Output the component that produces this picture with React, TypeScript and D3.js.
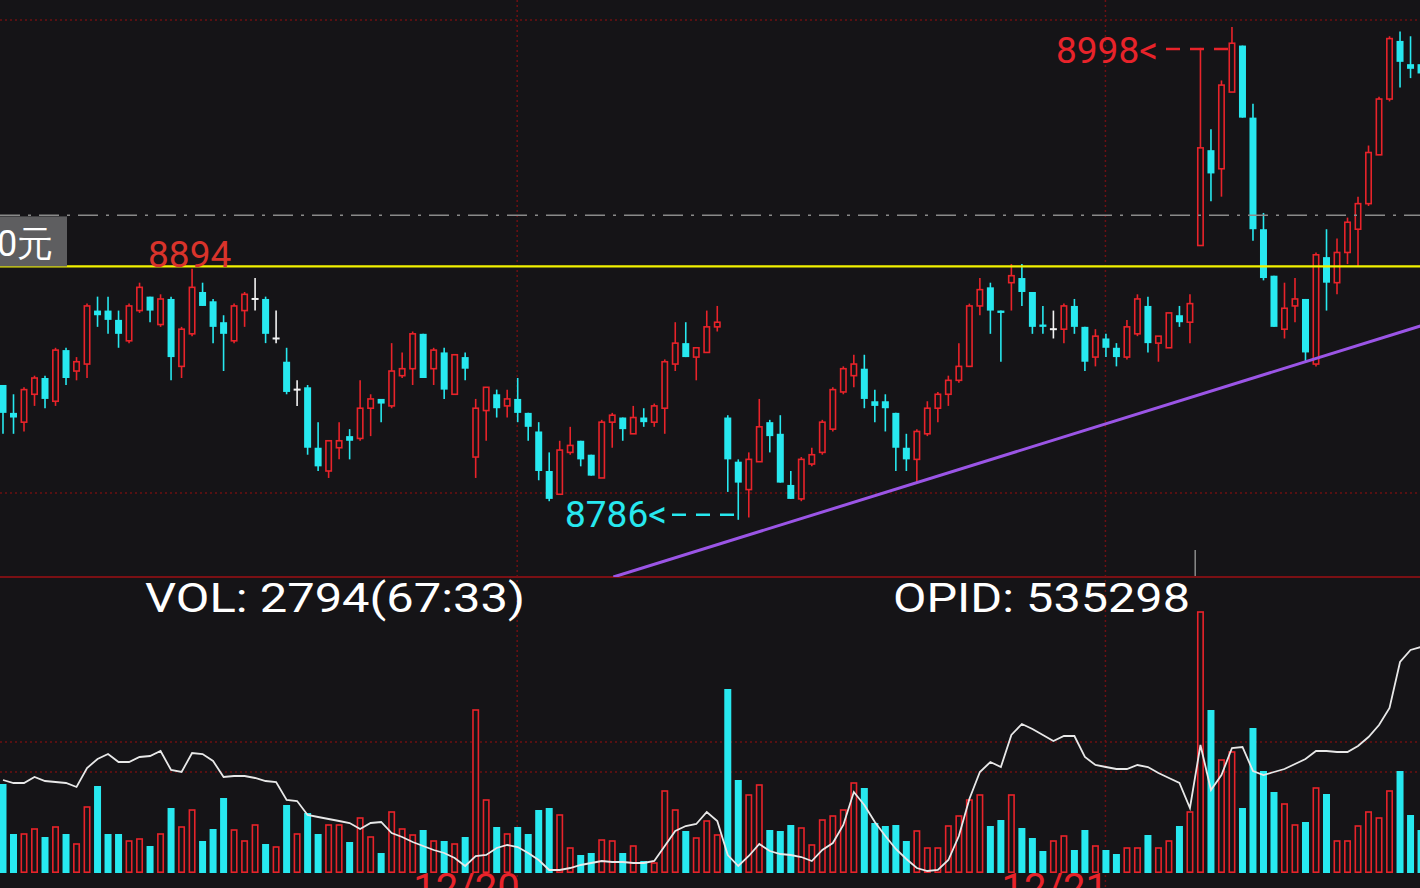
import React from "react";
import * as d3 from "d3";

const W = 1420;
const H = 888;

// ---- price data (per bar) ----
const opens = [
  8844, 8832, 8828, 8840, 8847, 8837, 8859, 8850, 8853, 8876, 8876, 8872, 8863, 8876, 8882, 8870, 8881, 8852, 8866, 8884,
  8880, 8871, 8863, 8876, 8881, 8881, 8864, 8854, 8842, 8843, 8817, 8807, 8817, 8822, 8821, 8834, 8838, 8835, 8848, 8851,
  8866, 8851, 8858, 8840, 8856, 8813, 8833, 8840, 8835, 8838, 8832, 8824, 8807, 8797, 8815, 8820, 8814, 8804, 8828, 8830,
  8823, 8830, 8828, 8834, 8853, 8862, 8856, 8858, 8869, 8830, 8811, 8799, 8811, 8828, 8823, 8801, 8795, 8810, 8815, 8825,
  8841, 8848, 8851, 8837, 8837, 8832, 8817, 8812, 8823, 8834, 8840, 8846, 8852, 8878, 8886, 8876, 8888, 8890, 8884, 8870,
  8868, 8868, 8878, 8869, 8856, 8864, 8860, 8856, 8866, 8878, 8862, 8860, 8874, 8871, 8904, 8945, 8937, 8970, 8990, 8959,
  8911, 8891, 8868, 8878, 8881, 8853, 8899, 8888, 8901, 8911, 8922, 8943, 8967, 8992, 8982, 8982,
];
const highs = [
  8844, 8840, 8843, 8848, 8848, 8860, 8860, 8856, 8879, 8882, 8882, 8876, 8879, 8888, 8882, 8883, 8882, 8869, 8894, 8888,
  8881, 8874, 8879, 8884, 8890, 8882, 8876, 8860, 8846, 8844, 8828, 8820, 8828, 8825, 8846, 8840, 8838, 8862, 8858, 8867,
  8866, 8860, 8860, 8857, 8858, 8838, 8843, 8842, 8842, 8847, 8832, 8828, 8815, 8820, 8826, 8820, 8814, 8829, 8832, 8830,
  8835, 8834, 8836, 8855, 8871, 8871, 8860, 8876, 8878, 8831, 8812, 8815, 8838, 8829, 8831, 8807, 8813, 8817, 8829, 8843,
  8852, 8857, 8857, 8842, 8840, 8832, 8823, 8825, 8837, 8841, 8848, 8862, 8879, 8890, 8888, 8876, 8896, 8896, 8884, 8878,
  8876, 8879, 8881, 8869, 8868, 8866, 8862, 8872, 8883, 8882, 8865, 8875, 8878, 8883, 8989, 8954, 8975, 8998, 8990, 8965,
  8918, 8891, 8888, 8890, 8881, 8901, 8911, 8907, 8916, 8925, 8947, 8968, 8994, 8996, 8994, 8990,
];
const lows = [
  8823, 8823, 8824, 8835, 8834, 8835, 8844, 8846, 8847, 8869, 8866, 8860, 8862, 8875, 8871, 8869, 8846, 8847, 8865, 8878,
  8862, 8850, 8862, 8869, 8876, 8862, 8862, 8840, 8835, 8814, 8807, 8804, 8812, 8812, 8820, 8822, 8828, 8834, 8847, 8844,
  8847, 8844, 8838, 8840, 8846, 8804, 8820, 8830, 8830, 8828, 8820, 8803, 8794, 8797, 8814, 8809, 8805, 8804, 8817, 8820,
  8823, 8826, 8826, 8823, 8850, 8856, 8846, 8858, 8867, 8798, 8786, 8787, 8811, 8815, 8802, 8795, 8794, 8809, 8814, 8824,
  8840, 8843, 8834, 8828, 8824, 8807, 8807, 8802, 8822, 8828, 8835, 8845, 8852, 8874, 8866, 8854, 8876, 8878, 8866, 8866,
  8864, 8862, 8866, 8850, 8852, 8856, 8852, 8855, 8865, 8858, 8854, 8860, 8869, 8862, 8904, 8923, 8925, 8970, 8959, 8906,
  8889, 8869, 8864, 8871, 8854, 8852, 8876, 8883, 8896, 8895, 8921, 8943, 8966, 8972, 8976, 8975,
];
const closes = [
  8832, 8830, 8842, 8847, 8838, 8859, 8847, 8854, 8878, 8874, 8872, 8866, 8878, 8886, 8876, 8881, 8856, 8868, 8886, 8878,
  8869, 8866, 8878, 8883, 8881, 8866, 8864, 8841, 8842, 8817, 8809, 8820, 8820, 8820, 8834, 8838, 8836, 8850, 8851, 8866,
  8847, 8859, 8842, 8857, 8851, 8834, 8843, 8834, 8838, 8832, 8826, 8807, 8795, 8816, 8818, 8812, 8805, 8828, 8831, 8825,
  8830, 8828, 8835, 8854, 8862, 8856, 8860, 8869, 8871, 8812, 8802, 8812, 8826, 8822, 8802, 8795, 8812, 8814, 8828, 8842,
  8851, 8853, 8838, 8835, 8834, 8817, 8812, 8824, 8834, 8840, 8846, 8852, 8878, 8885, 8876, 8875, 8891, 8884, 8869, 8869,
  8868, 8878, 8869, 8854, 8865, 8860, 8856, 8869, 8881, 8862, 8865, 8875, 8871, 8879, 8946, 8935, 8973, 8991, 8959, 8911,
  8890, 8869, 8877, 8881, 8858, 8900, 8888, 8901, 8914, 8922, 8944, 8967, 8993, 8983, 8980, 8978,
];

// ---- volume (lots) ----
const volumes = [
  5785, 2535, 2535, 2860, 2340, 2990, 2535, 1885, 4290, 5655, 2535, 2535, 2080, 2210, 1755, 2535, 4225, 2990, 4095, 2080,
  2860, 4875, 2795, 2080, 3120, 1885, 1690, 4420, 2535, 3900, 2535, 3120, 3120, 2015, 3575, 2340, 1300, 3965, 2860, 2470,
  2795, 2080, 2080, 1885, 2340, 10595, 4745, 2990, 2535, 2990, 2535, 4095, 4225, 3770, 1625, 1170, 1300, 2145, 2080, 1300,
  1755, 780, 650, 5330, 4095, 2730, 2275, 3380, 2470, 11960, 6045, 5070, 5720, 2795, 2730, 3120, 2925, 1820, 3445, 3705,
  4095, 5850, 5525, 3250, 3055, 3120, 2080, 2730, 1625, 1625, 3055, 3705, 4745, 5070, 3055, 3445, 5070, 2925, 2275, 1430,
  2080, 2405, 1495, 2795, 1755, 1495, 1235, 1625, 1625, 2470, 1625, 2080, 3055, 3965, 16965, 10595, 7345, 7865, 4225, 9425,
  6630, 5265, 4485, 3120, 3315, 5525, 5135, 2080, 2080, 3055, 3965, 3575, 5330, 6630, 3770, 2794,
];

// ---- open interest (white line) ----
const openInterest = [
  532638, 532578, 532578, 532698, 532618, 532598, 532578, 532498, 532878, 533058, 533158, 532998, 532998, 533098, 533118, 533218, 532838, 532798, 533178, 533158,
  533018, 532698, 532718, 532718, 532678, 532618, 532598, 532238, 532218, 531938, 531898, 531858, 531818, 531778, 531658, 531778, 531798, 531578, 531498, 531398,
  531318, 531238, 531178, 531078, 530918, 531118, 531138, 531278, 531338, 531298, 531178, 531038, 530838, 530838, 530878, 530938, 530978, 531018, 530998, 530998,
  530978, 530978, 531018, 531318, 531618, 531718, 531758, 531998, 531818, 531138, 530918, 531118, 531358, 531218, 531158, 531138, 531098, 531018, 531238, 531378,
  531738, 532398, 532138, 531798, 531518, 531258, 531058, 530878, 530818, 530838, 531038, 531518, 532258, 532798, 532998, 532898, 533538, 533758, 533658, 533538,
  533418, 533518, 533518, 533098, 532938, 532898, 532858, 532858, 532938, 532898, 532778, 532678, 532578, 532078, 533338, 532438, 532738, 533278, 533298, 532818,
  532738, 532798, 532858, 532958, 533058, 533218, 533218, 533198, 533198, 533318, 533498, 533738, 534078, 534998, 535238, 535298,
];

// ---- reference levels & annotations ----
const resistancePrice = 8895;
const dashDotPrice = 8917;
const priceGridLevels = [9001, 8797.5];
const volGridLevels = [8515, 6565];
const dateBreakIndex = [49, 105];
const dateLabels = ["12/20", "12/21"];
const trendAnchors = [
  { i: 87, p: 8802 },
  { i: 124, p: 8854 },
];
const highMark = { i: 117, label: "8998" };
const lowMark = { i: 70, label: "8786" };
const peakMark = { i: 18, label: "8894" };
const volLabel = "VOL: 2794(67:33)";
const oiLabel = "OPID: 535298";
const priceTagText = "0元";

const BG = "#151417";
const RED = "#e8232a";
const CYAN = "#27e8ef";
const GRID = "#6e0f12";
const FONT = "Roboto, 'Noto Sans', sans-serif";

export default function App() {
  const n = opens.length;
  const step = 10.504;
  const x = d3.scaleLinear().domain([0, n - 1]).range([3, 3 + (n - 1) * step]);
  const y = d3.scaleLinear().domain([8761.4, 9009.6]).range([577, 0]);
  const yv = d3.scaleLinear().domain([0, 16965]).range([873, 612]);
  const yo = d3.scaleLinear().domain([530778, 535298]).range([873, 647]);

  const bw = 7;

  const oiLine = d3
    .line<number>()
    .x((_, i) => x(i))
    .y((d) => yo(d))(openInterest) as string;

  // trendline extended
  const slope = (trendAnchors[1].p - trendAnchors[0].p) / (trendAnchors[1].i - trendAnchors[0].i);
  const tStartI = trendAnchors[0].i + (y.domain()[0] - trendAnchors[0].p) / slope;
  const tEndI = n;
  const tp = (i: number) => trendAnchors[0].p + slope * (i - trendAnchors[0].i);

  const candles = d3.range(n).map((i) => {
    const o = opens[i], c = closes[i], h = highs[i], l = lows[i];
    const cx = x(i);
    if (o === c) {
      return (
        <g key={i} stroke="#f2f2f2" strokeWidth={1.6}>
          <line x1={cx} x2={cx} y1={y(h)} y2={y(l)} />
          <line x1={cx - bw / 2} x2={cx + bw / 2} y1={y(o)} y2={y(o)} strokeWidth={2} />
        </g>
      );
    }
    const up = c > o;
    const top = y(Math.max(o, c));
    const bot = y(Math.min(o, c));
    const bh = Math.max(1.5, bot - top);
    if (up) {
      return (
        <g key={i} stroke={RED} strokeWidth={1.6}>
          <line x1={cx} x2={cx} y1={y(h)} y2={top} />
          <line x1={cx} x2={cx} y1={bot} y2={y(l)} />
          <rect x={cx - bw / 2 + 0.8} y={top} width={bw - 1.6} height={bh} fill={BG} />
        </g>
      );
    }
    return (
      <g key={i}>
        <line x1={cx} x2={cx} y1={y(h)} y2={y(l)} stroke={CYAN} strokeWidth={1.6} />
        <rect x={cx - bw / 2} y={top} width={bw} height={bh} fill={CYAN} />
      </g>
    );
  });

  const volBars = d3.range(n).map((i) => {
    const cx = x(i);
    const down = closes[i] < opens[i];
    const top = yv(volumes[i]);
    const hgt = yv(0) - top;
    if (down) {
      return <rect key={i} x={cx - bw / 2} y={top} width={bw} height={hgt} fill={CYAN} />;
    }
    return (
      <rect key={i} x={cx - bw / 2 + 0.8} y={top} width={bw - 1.6} height={hgt - 0.8} fill={BG} stroke={RED} strokeWidth={1.6} />
    );
  });

  const yRes = y(resistancePrice);

  return (
    <svg
      width={W}
      height={H}
      style={{ position: "fixed", left: 0, top: 0, background: BG }}
      fontFamily={FONT}
    >
      <defs>
        <clipPath id="pricePane">
          <rect x={0} y={0} width={W} height={577} />
        </clipPath>
      </defs>
      <rect x={0} y={0} width={W} height={H} fill={BG} />

      {/* grids */}
      {priceGridLevels.map((p, k) => (
        <line key={"pg" + k} x1={0} x2={W} y1={y(p)} y2={y(p)} stroke={GRID} strokeWidth={1.5} strokeDasharray="2 3" />
      ))}
      {volGridLevels.map((v, k) => (
        <line key={"vg" + k} x1={0} x2={W} y1={yv(v)} y2={yv(v)} stroke={GRID} strokeWidth={1.5} strokeDasharray="2 3" />
      ))}
      {dateBreakIndex.map((i, k) => (
        <line key={"db" + k} x1={x(i) - 0.5} x2={x(i) - 0.5} y1={0} y2={H} stroke={GRID} strokeWidth={1.5} strokeDasharray="2 3" />
      ))}
      <line x1={0} x2={W} y1={577} y2={577} stroke="#7a1014" strokeWidth={2} />

      {candles}

      {/* reference lines */}
      <line x1={0} x2={W} y1={y(dashDotPrice)} y2={y(dashDotPrice)} stroke="#8a8a8a" strokeWidth={1.5} strokeDasharray="20 8 3 8" />
      <line x1={0} x2={W} y1={yRes} y2={yRes} stroke="#f2f200" strokeWidth={2.2} />
      <g clipPath="url(#pricePane)">
        <line x1={x(tStartI)} y1={y(tp(tStartI))} x2={x(tEndI)} y2={y(tp(tEndI))} stroke="#9b55e6" strokeWidth={3} />
      </g>
      <line x1={x(113.5)} x2={x(113.5)} y1={550} y2={576} stroke="#8a8a8a" strokeWidth={1.5} />

      {/* price tag */}
      <rect x={0} y={yRes - 50} width={67} height={50} fill="#5e5e60" />
      <text x={-3} y={yRes - 10} fill="#ffffff" fontSize={36}>
        {priceTagText}
      </text>

      {/* marks */}
      <text x={x(peakMark.i) - 44} y={y(highs[peakMark.i]) - 2} fill="#d9332b" fontSize={37}>
        {peakMark.label}
      </text>
      <text x={1056} y={y(highs[highMark.i]) + 36} fill={RED} fontSize={37}>
        {highMark.label + "<"}
      </text>
      <line
        x1={1166}
        x2={x(highMark.i)}
        y1={y(highs[highMark.i]) + 22}
        y2={y(highs[highMark.i]) + 22}
        stroke={RED}
        strokeWidth={2.5}
        strokeDasharray="14 10"
      />
      <text x={565} y={y(lows[lowMark.i]) + 7} fill={CYAN} fontSize={37}>
        {lowMark.label + "<"}
      </text>
      <line
        x1={672}
        x2={x(lowMark.i)}
        y1={y(lows[lowMark.i]) - 5}
        y2={y(lows[lowMark.i]) - 5}
        stroke={CYAN}
        strokeWidth={2.5}
        strokeDasharray="14 10"
      />

      {/* volume pane */}
      {volBars}
      <path d={oiLine} fill="none" stroke="#e8e8e8" strokeWidth={1.8} />

      <text x={145} y={612} fill="#ffffff" fontSize={41} textLength={380} lengthAdjust="spacingAndGlyphs">
        {volLabel}
      </text>
      <text x={893} y={612} fill="#ffffff" fontSize={41} textLength={297} lengthAdjust="spacingAndGlyphs">
        {oiLabel}
      </text>

      {dateBreakIndex.map((i, k) => (
        <text key={"dl" + k} x={x(i) + 2} y={902} fill={RED} fontSize={40} textAnchor="end">
          {dateLabels[k]}
        </text>
      ))}
    </svg>
  );
}
